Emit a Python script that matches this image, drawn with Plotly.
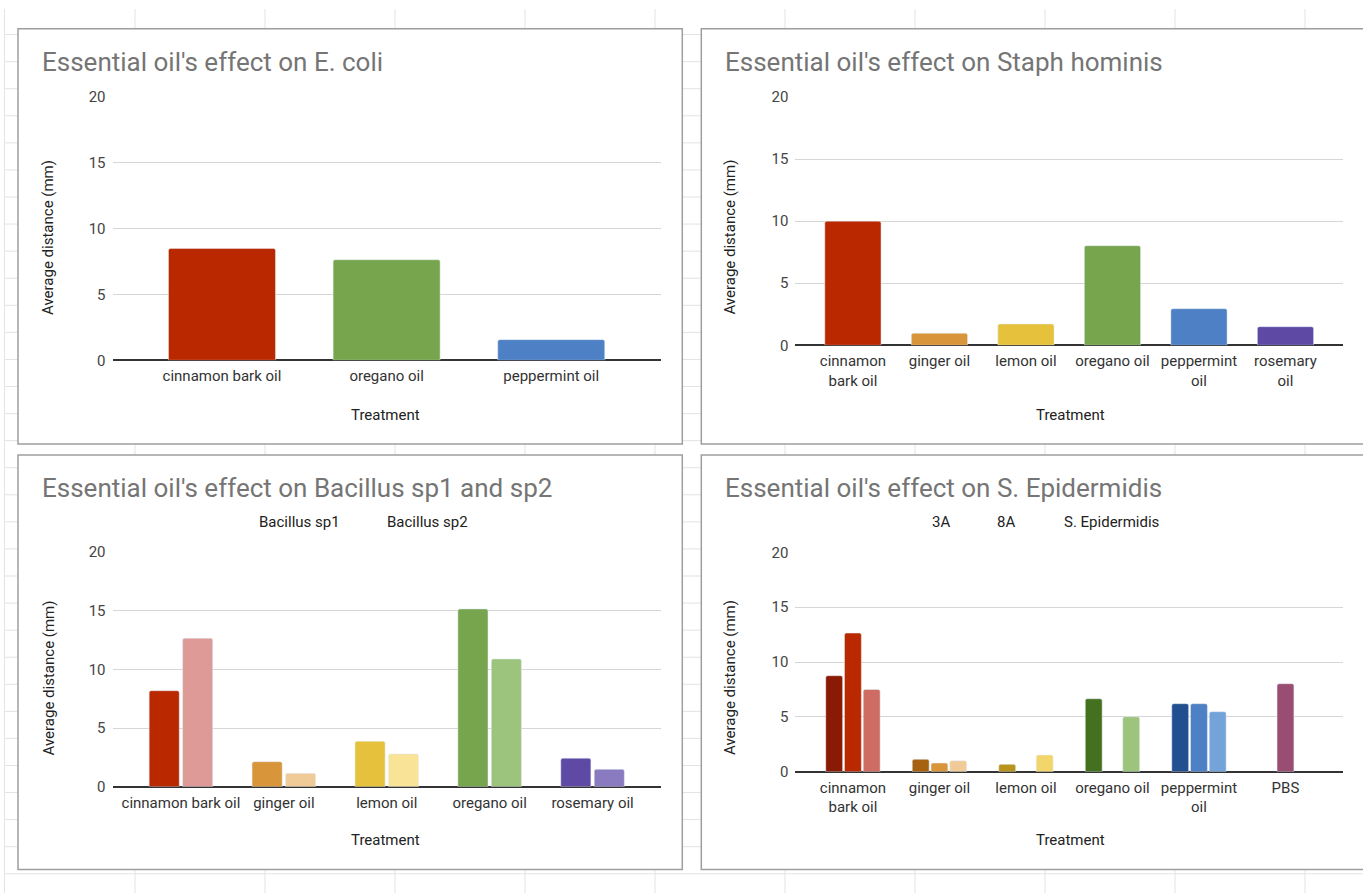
import plotly.graph_objects as go

W, H = 1363, 893

# ---------------- data ----------------
ecoli_categories = ["cinnamon bark oil", "oregano oil", "peppermint oil"]
ecoli_values = [8.5, 7.64, 1.57]
ecoli_colors = ["#BA2800", "#77A54E", "#4D80C4"]

staph_categories = ["cinnamon bark oil", "ginger oil", "lemon oil", "oregano oil", "peppermint oil", "rosemary oil"]
staph_ticklabels = ["cinnamon<br>bark oil", "ginger oil", "lemon oil", "oregano oil", "peppermint<br>oil", "rosemary<br>oil"]
staph_values = [10.0, 0.97, 1.72, 8.02, 2.95, 1.5]
staph_colors = ["#BA2800", "#D8953A", "#E6C23C", "#77A54E", "#4D80C4", "#5E4AA5"]

bacillus_categories = ["cinnamon bark oil", "ginger oil", "lemon oil", "oregano oil", "rosemary oil"]
bacillus_series = ["Bacillus sp1", "Bacillus sp2"]
bacillus_sp1 = [8.18, 2.13, 3.87, 15.15, 2.43]
bacillus_sp2 = [12.65, 1.14, 2.79, 10.89, 1.48]
bacillus_sp1_colors = ["#BA2800", "#D8953A", "#E6C23C", "#77A54E", "#5E4AA5"]
bacillus_sp2_colors = ["#DD9A96", "#F0CB98", "#F8E397", "#9CC47D", "#8A7BC0"]

epi_categories = ["cinnamon bark oil", "ginger oil", "lemon oil", "oregano oil", "peppermint oil", "PBS"]
epi_ticklabels = ["cinnamon<br>bark oil", "ginger oil", "lemon oil", "oregano oil", "peppermint<br>oil", "PBS"]
epi_series = ["3A", "8A", "S. Epidermidis"]
epi_3a = [8.75, 1.13, 0.67, 6.65, 6.2, None]
epi_8a = [12.64, 0.79, None, None, 6.2, 8.02]
epi_se = [7.5, 1.0, 1.52, 5.01, 5.47, None]
epi_3a_colors = ["#8A1A04", "#A6620F", "#B8941A", "#44711F", "#224F8F", "#994D73"]
epi_8a_colors = ["#BA2800", "#D8953A", "#E6C23C", "#77A54E", "#4D80C4", "#994D73"]
epi_se_colors = ["#CE6B62", "#F0CB98", "#F3D66A", "#9CC47D", "#74A3D9", "#994D73"]

y_ticks = [0, 5, 10, 15, 20]

FONT = "Roboto, Arial, sans-serif"
TXT = 15


def px_x(v):
    return v / W


def px_y(v):
    return 1 - v / H


fig = go.Figure()

# ---------------- traces ----------------
fig.add_trace(go.Bar(x=ecoli_categories, y=ecoli_values, width=0.65,
                     marker=dict(color=ecoli_colors, cornerradius=2),
                     xaxis="x", yaxis="y", showlegend=False))
fig.add_trace(go.Bar(x=staph_categories, y=staph_values, width=0.65,
                     marker=dict(color=staph_colors, cornerradius=2),
                     xaxis="x2", yaxis="y2", showlegend=False))
fig.add_trace(go.Bar(x=bacillus_categories, y=bacillus_sp1, name=bacillus_series[0],
                     marker=dict(color=bacillus_sp1_colors, cornerradius=2),
                     xaxis="x3", yaxis="y3", showlegend=False, offsetgroup="b1"))
fig.add_trace(go.Bar(x=bacillus_categories, y=bacillus_sp2, name=bacillus_series[1],
                     marker=dict(color=bacillus_sp2_colors, cornerradius=2),
                     xaxis="x3", yaxis="y3", showlegend=False, offsetgroup="b2"))
for name, vals, cols, og in [(epi_series[0], epi_3a, epi_3a_colors, "e1"),
                             (epi_series[1], epi_8a, epi_8a_colors, "e2"),
                             (epi_series[2], epi_se, epi_se_colors, "e3")]:
    fig.add_trace(go.Bar(x=epi_categories, y=vals, name=name,
                         marker=dict(color=cols, cornerradius=2),
                         xaxis="x4", yaxis="y4", showlegend=False, offsetgroup=og))

# ---------------- axes ----------------
panels = [
    ("", 112.5, 660.7, 97, 360.3, ecoli_categories, ecoli_categories),
    ("2", 795.4, 1343, 97, 345.3, staph_categories, staph_ticklabels),
    ("3", 112.5, 661, 552, 786.7, bacillus_categories, bacillus_categories),
    ("4", 795.4, 1343, 552.3, 771.7, epi_categories, epi_ticklabels),
]

layout_axes = {}
for suf, x0, x1, yt, yb, cats, labels in panels:
    n = len(cats)
    layout_axes["xaxis" + suf] = dict(
        domain=[px_x(x0), px_x(x1)], anchor="y" + suf, type="category",
        range=[-0.665, n - 1 + 0.665], showgrid=False, showline=False, zeroline=False,
        ticks="", tickmode="array", tickvals=cats, ticktext=labels, ticklabelstandoff=5,
        tickfont=dict(family=FONT, size=TXT, color="#333333"), fixedrange=True,
        automargin=False,
    )
    layout_axes["yaxis" + suf] = dict(
        domain=[px_y(yb), px_y(yt)], anchor="x" + suf, range=[0, 20],
        tickvals=y_ticks, showgrid=True, gridcolor="#D6D6D6", gridwidth=1,
        zeroline=True, zerolinecolor="#333333", zerolinewidth=1.5,
        showline=False, ticks="", ticklabelstandoff=6,
        tickfont=dict(family=FONT, size=TXT, color="#444444"), fixedrange=True,
        automargin=False,
    )

# ---------------- background: spreadsheet grid + chart boxes ----------------
shapes = []
grid_col = "#E3E3E3"
vx = [4.5] + [135 + 130 * k for k in range(10)]
for x in vx:
    shapes.append(dict(type="line", xref="paper", yref="paper", x0=px_x(x), x1=px_x(x),
                       y0=px_y(9), y1=0, line=dict(color=grid_col, width=1), layer="below"))
k = 0
while 34.6 + 27.07 * k < H:
    y = 34.6 + 27.07 * k
    shapes.append(dict(type="line", xref="paper", yref="paper", x0=px_x(4.5), x1=1,
                       y0=px_y(y), y1=px_y(y), line=dict(color=grid_col, width=1), layer="below"))
    k += 1

boxes = [(18, 682.3, 28.8, 444), (701.3, 1375, 28.8, 444),
         (18, 682.3, 455, 869.5), (701.3, 1375, 455, 869.5)]
for bx0, bx1, by0, by1 in boxes:
    shapes.append(dict(type="rect", xref="paper", yref="paper",
                       x0=px_x(bx0), x1=px_x(bx1), y0=px_y(by1), y1=px_y(by0),
                       fillcolor="white", line=dict(color="#9E9E9E", width=1.5), layer="below"))

# ---------------- text annotations ----------------
ann = []
titles = [("Essential oil's effect on E. coli", 40, 61.7),
          ("Essential oil's effect on Staph hominis", 722.7, 61.7),
          ("Essential oil's effect on Bacillus sp1 and sp2", 40, 487.7),
          ("Essential oil's effect on S. Epidermidis", 722.7, 487.7)]
for t, x, y in titles:
    ann.append(dict(text=t, xref="paper", yref="paper", x=px_x(x), y=px_y(y),
                    xanchor="left", yanchor="middle", showarrow=False,
                    font=dict(family=FONT, size=26, color="#757575")))

ytitles = [(48, 238), (730, 237.6), (48, 678.5), (730, 678)]
for x, y in ytitles:
    ann.append(dict(text="Average distance (mm)", xref="paper", yref="paper", x=px_x(x), y=px_y(y),
                    xanchor="center", yanchor="middle", textangle=-90, showarrow=False,
                    font=dict(family=FONT, size=TXT, color="#222222")))

xtitles = [(386, 415), (1070, 415), (386, 840), (1070, 840)]
for x, y in xtitles:
    ann.append(dict(text="Treatment", xref="paper", yref="paper", x=px_x(x), y=px_y(y),
                    xanchor="center", yanchor="middle", showarrow=False,
                    font=dict(family=FONT, size=TXT, color="#222222")))

legend_pos = [(bacillus_series[0], 299, 522), (bacillus_series[1], 427.7, 522),
              (epi_series[0], 941, 522), (epi_series[1], 1006, 522), (epi_series[2], 1111, 522)]
for t, x, y in legend_pos:
    ann.append(dict(text=t, xref="paper", yref="paper", x=px_x(x), y=px_y(y),
                    xanchor="center", yanchor="middle", showarrow=False,
                    font=dict(family=FONT, size=TXT, color="#222222")))

fig.update_layout(
    width=W, height=H, autosize=False,
    margin=dict(l=0, r=0, t=0, b=0, pad=0, autoexpand=False),
    paper_bgcolor="white", plot_bgcolor="rgba(0,0,0,0)",
    barmode="group", bargap=0.35, bargroupgap=0.1,
    shapes=shapes, annotations=ann, showlegend=False,
    font=dict(family=FONT),
    **layout_axes,
)

fig.write_html(
    "out.html", config={"displayModeBar": False},
    post_script=(
        "document.body.style.margin='0';document.body.style.padding='0';"
        "document.body.style.overflow='hidden';"
        "var g=document.getElementById('{plot_id}');"
        "g.style.position='fixed';g.style.left='0px';g.style.top='0px';"
    ),
)
